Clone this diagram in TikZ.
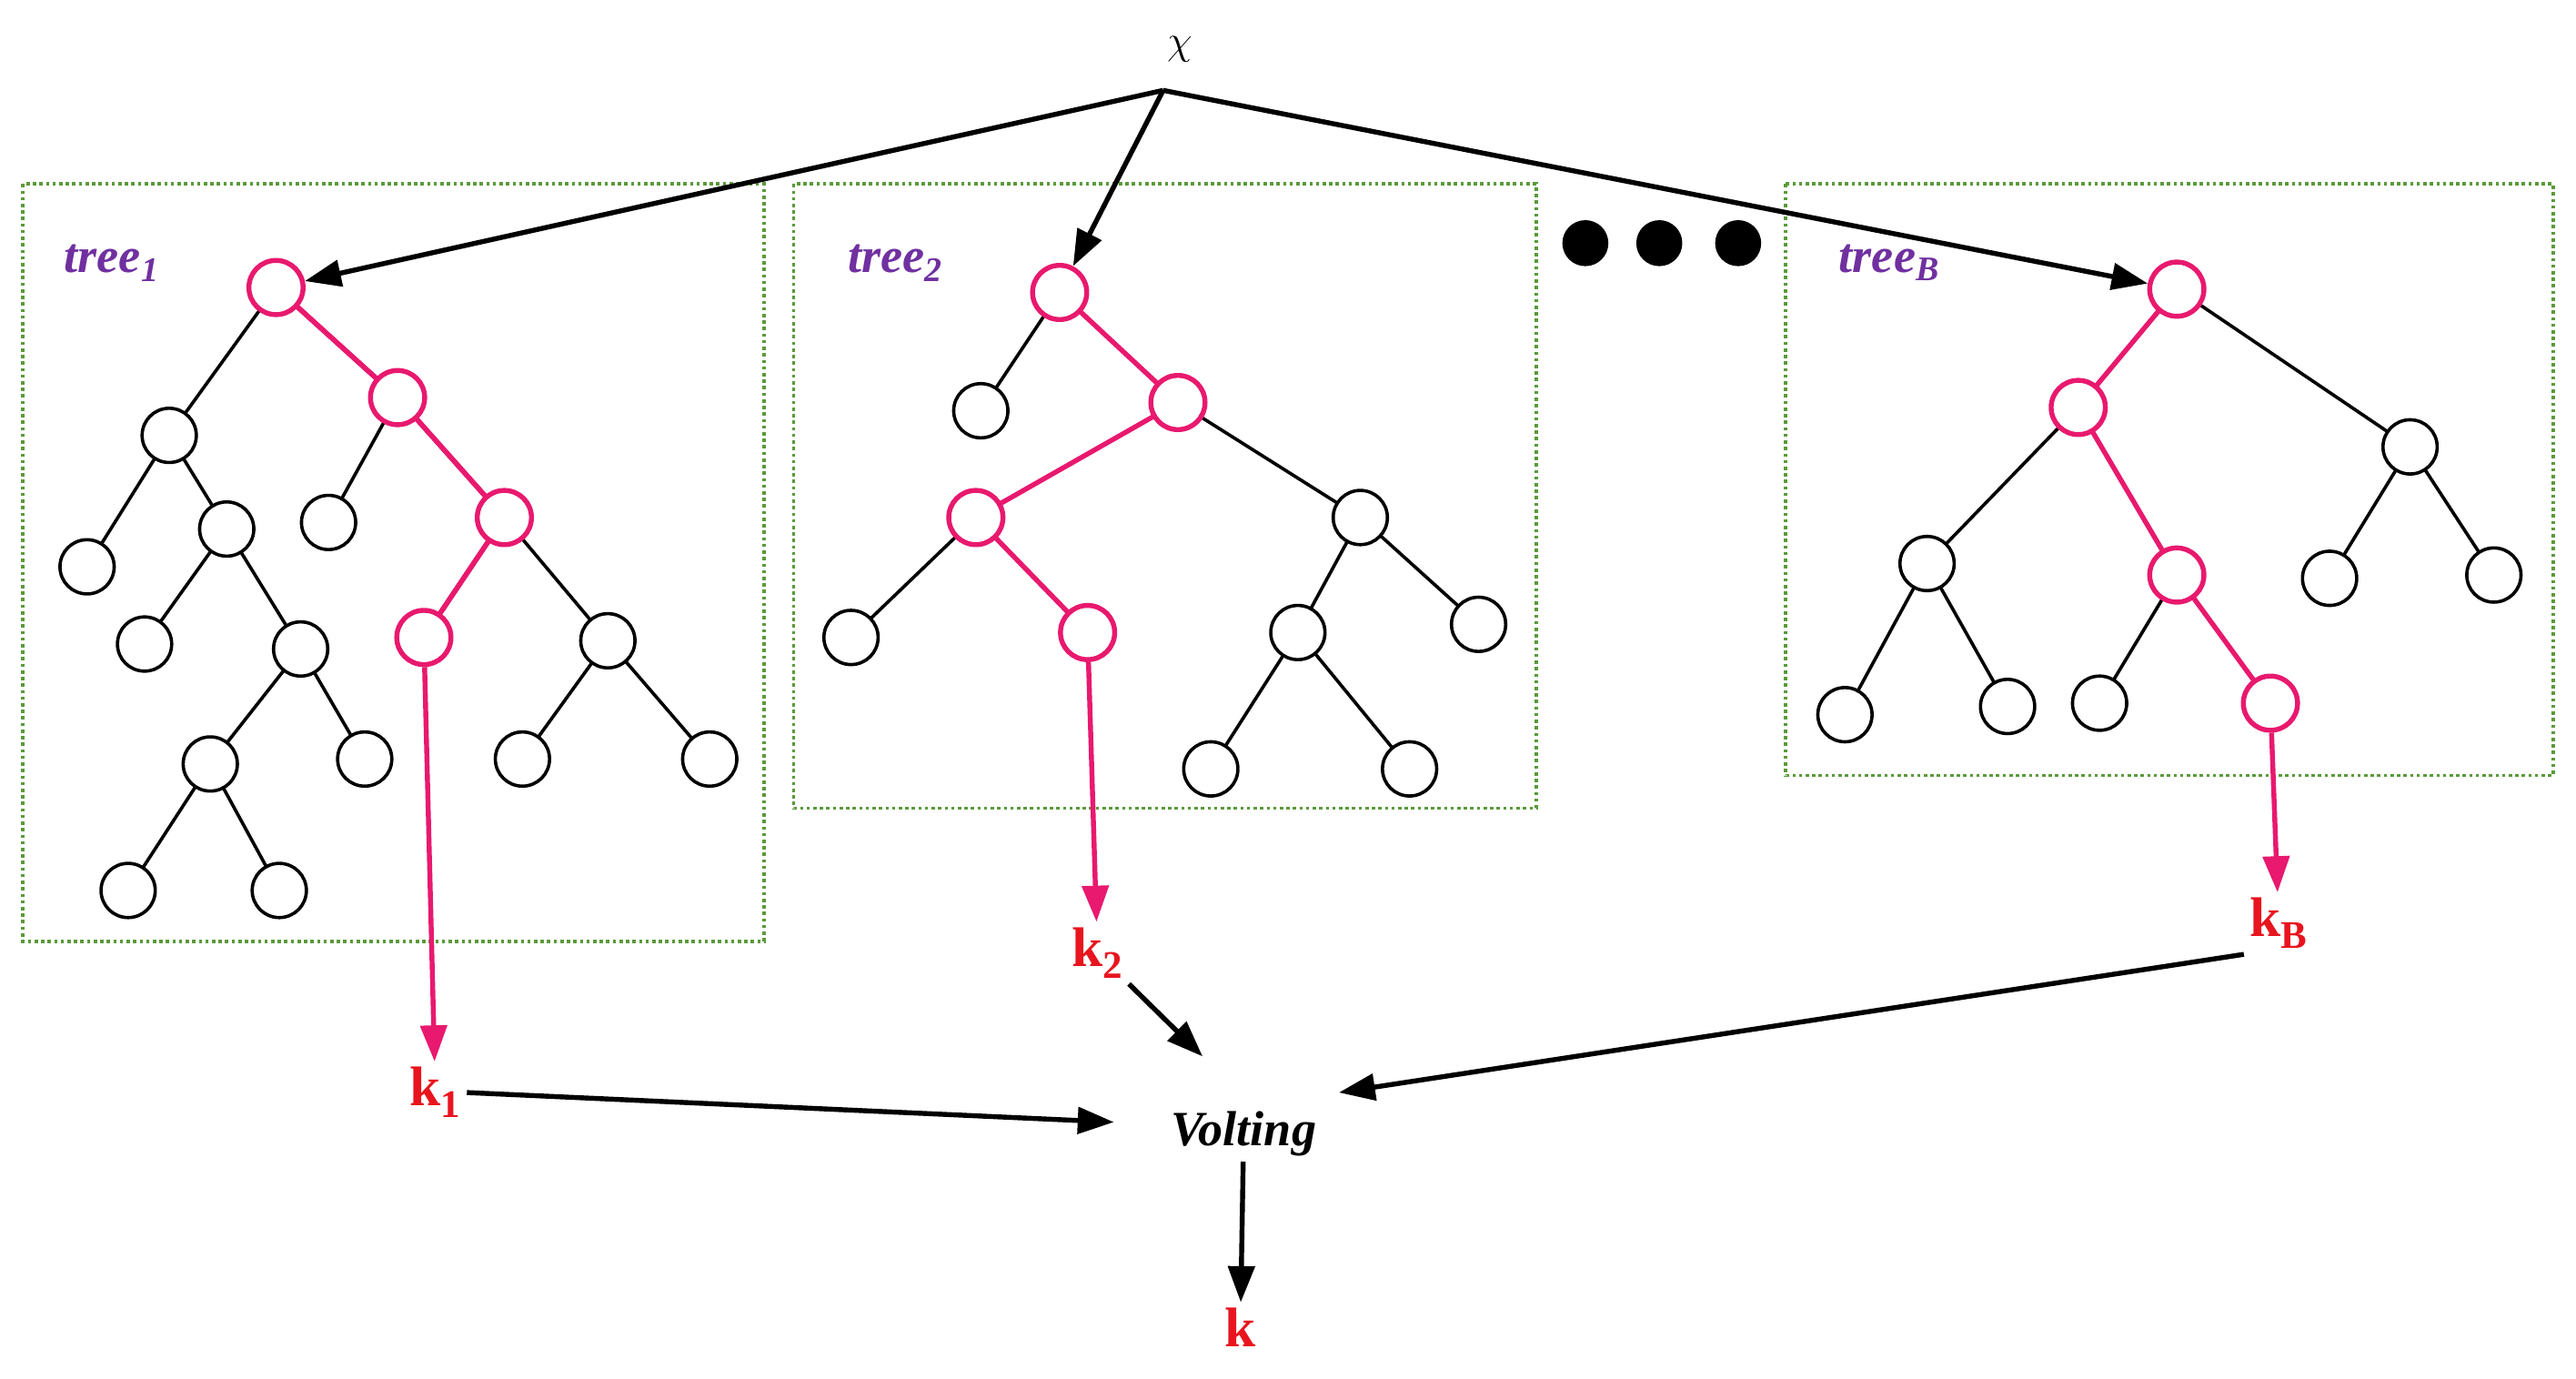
\documentclass[tikz,border=0pt]{standalone}
\usepackage{fontspec}
\setmainfont{Liberation Serif}
\usetikzlibrary{arrows.meta}
\definecolor{pk}{HTML}{E8196E}
\definecolor{rd}{HTML}{E8141E}
\definecolor{pu}{HTML}{7030A0}
\definecolor{gr}{HTML}{5A9A3A}
\begin{document}
\begin{tikzpicture}[x=1pt,y=-1pt,
 n/.style={circle,draw=black,line width=2pt,fill=white,minimum size=33pt,inner sep=0pt},
 p/.style={n,draw=pk,line width=3pt},
 e/.style={line width=2pt},
 pe/.style={line width=3pt,draw=pk},
 ar/.style={line width=3pt,-{Triangle[length=22pt,width=16pt]}},
 par/.style={ar,draw=pk,-{Triangle[length=22pt,width=16pt,fill=pk]}},
 box/.style={draw=gr,line width=2pt,dotted},
 tl/.style={text=pu,font=\fontsize{30}{30}\selectfont\bfseries\itshape},
 kl/.style={text=rd,font=\fontsize{34}{34}\selectfont\bfseries}]
\useasboundingbox (0,0) rectangle (1568,839);
\draw[box] (14,112) rectangle (465,573);
\draw[box] (483,112) rectangle (935,492);
\draw[box] (1087,112) rectangle (1554,472);
\node[tl] at (68,160) {tree\textsubscript{1}};
\node[tl] at (545,160) {tree\textsubscript{2}};
\node[tl] at (1150,160) {tree\textsubscript{\itshape B}};
\foreach \x in {965,1010,1058} \fill (\x,148) circle (14);
\node (chi) at (718,30) {\fontsize{40}{40}\selectfont$\chi$};
\coordinate (c0) at (708,55);
% tree1
\begin{scope}[every node/.style={}]
\end{scope}
\path[pe] (168,175)--(242,242)--(307,315)--(258,388);
\path[e] (168,175)--(103,265) (242,242)--(200,318) (307,315)--(370,390)
 (103,265)--(53,345) (103,265)--(138,322) (138,322)--(88,392) (138,322)--(183,395)
 (183,395)--(128,465) (183,395)--(222,462) (128,465)--(78,542) (128,465)--(170,542)
 (370,390)--(318,462) (370,390)--(432,462);
\draw[pe] (168,175)--(242,242)--(307,315)--(258,388);
\draw[e] (168,175)--(103,265) (242,242)--(200,318) (307,315)--(370,390)
 (103,265)--(53,345) (103,265)--(138,322) (138,322)--(88,392) (138,322)--(183,395)
 (183,395)--(128,465) (183,395)--(222,462) (128,465)--(78,542) (128,465)--(170,542)
 (370,390)--(318,462) (370,390)--(432,462);
\node[p] (r1) at (168,175) {}; \node[p] at (242,242) {}; \node[p] at (307,315) {}; \node[p] (l1) at (258,388) {};
\foreach \a/\b in {103/265,53/345,138/322,88/392,183/395,128/465,222/462,78/542,170/542,200/318,370/390,318/462,432/462}
 \node[n] at (\a,\b) {};
% tree2
\draw[pe] (645,178)--(717,245)--(594,315)--(662,385);
\draw[e] (645,178)--(597,250) (717,245)--(828,315) (594,315)--(518,388)
 (828,315)--(790,385) (828,315)--(900,380) (790,385)--(737,468) (790,385)--(858,468);
\node[p] (r2) at (645,178) {}; \node[p] at (717,245) {}; \node[p] at (594,315) {}; \node[p] (l2) at (662,385) {};
\foreach \a/\b in {597/250,828/315,518/388,790/385,900/380,737/468,858/468}
 \node[n] at (\a,\b) {};
% tree B
\draw[pe] (1325,176)--(1265,248)--(1325,350)--(1382,428);
\draw[e] (1325,176)--(1467,272) (1265,248)--(1173,343) (1467,272)--(1418,352) (1467,272)--(1518,350)
 (1173,343)--(1123,435) (1173,343)--(1222,430) (1325,350)--(1278,428);
\node[p] (r3) at (1325,176) {}; \node[p] at (1265,248) {}; \node[p] at (1325,350) {}; \node[p] (l3) at (1382,428) {};
\foreach \a/\b in {1467/272,1173/343,1418/352,1518/350,1123/435,1222/430,1278/428}
 \node[n] at (\a,\b) {};
% arrows from chi
\draw[ar] (c0) -- (r1);
\draw[ar] (c0) -- (r2);
\draw[ar] (c0) -- (r3);
% outputs
\node[kl] (k1) at (265,665) {k\textsubscript{\normalfont\bfseries 1}};
\node[kl] (k2) at (668,580) {k\textsubscript{2}};
\node[kl] (kB) at (1387,562) {k\textsubscript{B}};
\draw[par] (l1) -- (k1);
\draw[par] (l2) -- (k2);
\draw[par] (l3) -- (kB);
\node[font=\fontsize{30}{30}\selectfont\bfseries\itshape] (v) at (757,690) {Volting};
\node[kl] (k) at (755,808) {k};
\draw[ar] (k1.east) -- (678,683);
\draw[ar] (k2.south east) -- (732,643);
\draw[ar] (kB.south west) -- (815,665);
\draw[ar] (v) -- (k);
\end{tikzpicture}
\end{document}
